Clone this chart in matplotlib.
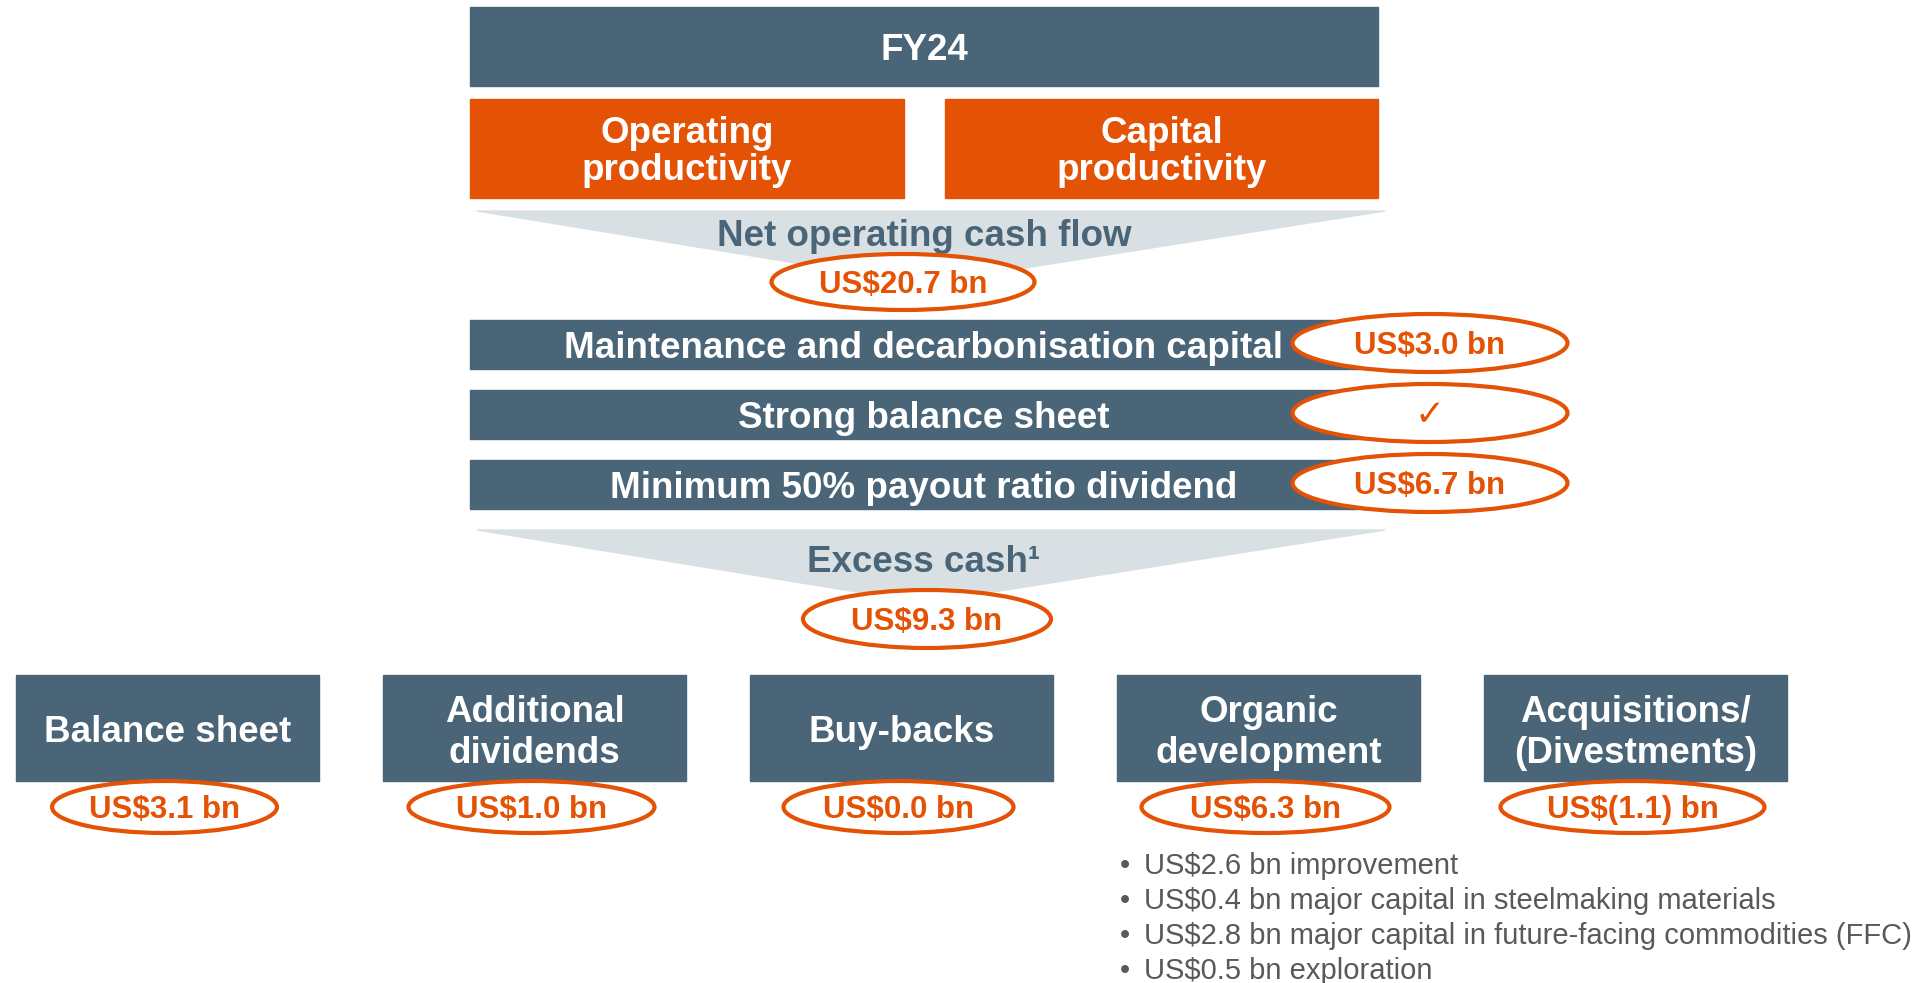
import matplotlib.pyplot as plt
from matplotlib.patches import Rectangle, Polygon, Ellipse

# ---- data ----
period = "FY24"
drivers = ["Operating\nproductivity", "Capital\nproductivity"]
net_operating_cash_flow = 20.7
priorities = [
    "Maintenance and decarbonisation capital",
    "Strong balance sheet",
    "Minimum 50% payout ratio dividend",
]
priority_values = [3.0, None, 6.7]  # None -> tick mark
excess_cash = 9.3
allocations = [
    "Balance sheet",
    "Additional\ndividends",
    "Buy-backs",
    "Organic\ndevelopment",
    "Acquisitions/\n(Divestments)",
]
allocation_values = [3.1, 1.0, 0.0, 6.3, -1.1]
organic_breakdown = [
    "US$2.6 bn improvement",
    "US$0.4 bn major capital in steelmaking materials",
    "US$2.8 bn major capital in future-facing commodities (FFC)",
    "US$0.5 bn exploration",
]

SLATE = "#4a6577"
ORANGE = "#e35205"
FUNNEL = "#d9e0e4"
GREY = "#595959"
FONT = ["Liberation Sans", "DejaVu Sans"]
DY = 4  # text sits a touch lower than bbox centre


def fmt(v):
    if v is None:
        return "\u2713"
    if v < 0:
        return f"US$({abs(v):.1f}) bn"
    return f"US${v:.1f} bn"


def oval(ax, cx, cy, w, h, text, size=22.5):
    ax.add_patch(Ellipse((cx, cy), w, h, facecolor="white", edgecolor=ORANGE,
                         linewidth=3.0, zorder=4))
    ax.text(cx, cy + DY - 1, text, ha="center", va="center", color=ORANGE,
            fontsize=size, fontweight="bold", family=FONT, zorder=5)


fig = plt.figure(figsize=(19.16, 9.83), dpi=100)
ax = fig.add_axes([0, 0, 1, 1])
ax.set_xlim(0, 1916)
ax.set_ylim(983, 0)
ax.axis("off")

left, right = 470, 1378
mid = (left + right) / 2

# header
ax.add_patch(Rectangle((left, 7), right - left, 79, color=SLATE))
ax.text(mid, 47 + DY, period, ha="center", va="center", color="white",
        fontsize=26.5, fontweight="bold", family=FONT)

# drivers
driver_x = [(470, 904), (945, 1378)]
for (x0, x1), label in zip(driver_x, drivers):
    ax.add_patch(Rectangle((x0, 99), x1 - x0, 99, color=ORANGE))
    ax.text((x0 + x1) / 2, 149 + DY - 1, label, ha="center", va="center",
            color="white", fontsize=26.5, fontweight="bold", family=FONT,
            linespacing=1.1)

# funnel -> net operating cash flow
ax.add_patch(Polygon([(477, 211), (1385, 211), (924, 284)], color=FUNNEL))
ax.text(mid, 232 + DY, "Net operating cash flow", ha="center", va="center",
        color=SLATE, fontsize=26.5, fontweight="bold", family=FONT)
oval(ax, 903, 282, 263, 56, fmt(net_operating_cash_flow))

# priorities
bar_y = [320, 390, 460]
for y, label, val in zip(bar_y, priorities, priority_values):
    ax.add_patch(Rectangle((left, y), right - left, 49, color=SLATE))
    ax.text(mid, y + 25 + DY, label, ha="center", va="center", color="white",
            fontsize=26.5, fontweight="bold", family=FONT)
    oval(ax, 1430, y + 23, 275, 58, fmt(val),
         size=22.5 if val is not None else 26)

# funnel -> excess cash
ax.add_patch(Polygon([(477, 530), (1385, 530), (924, 603)], color=FUNNEL))
ax.text(mid, 558 + DY, "Excess cash\u00b9", ha="center", va="center",
        color=SLATE, fontsize=26.5, fontweight="bold", family=FONT)
oval(ax, 927, 619, 248, 58, fmt(excess_cash))

# allocation boxes
box_w, box_step, box_x0 = 303, 367, 16
oval_w = [225, 246, 230, 248, 264]
for i, (label, val) in enumerate(zip(allocations, allocation_values)):
    x0 = box_x0 + i * box_step
    ax.add_patch(Rectangle((x0, 675), box_w, 106, color=SLATE))
    ax.text(x0 + box_w / 2, 729 + DY, label, ha="center", va="center",
            color="white", fontsize=26.5, fontweight="bold", family=FONT,
            linespacing=1.22)
    oval(ax, x0 + box_w / 2 - 3, 807, oval_w[i], 52, fmt(val))

# organic development breakdown
for j, line in enumerate(organic_breakdown):
    y = 866 + j * 35
    ax.text(1120, y, "\u2022", ha="left", va="center", color=GREY,
            fontsize=21, family=FONT)
    ax.text(1144, y, line, ha="left", va="center", color=GREY,
            fontsize=21, family=FONT)

fig.savefig("out.png", dpi=100)
